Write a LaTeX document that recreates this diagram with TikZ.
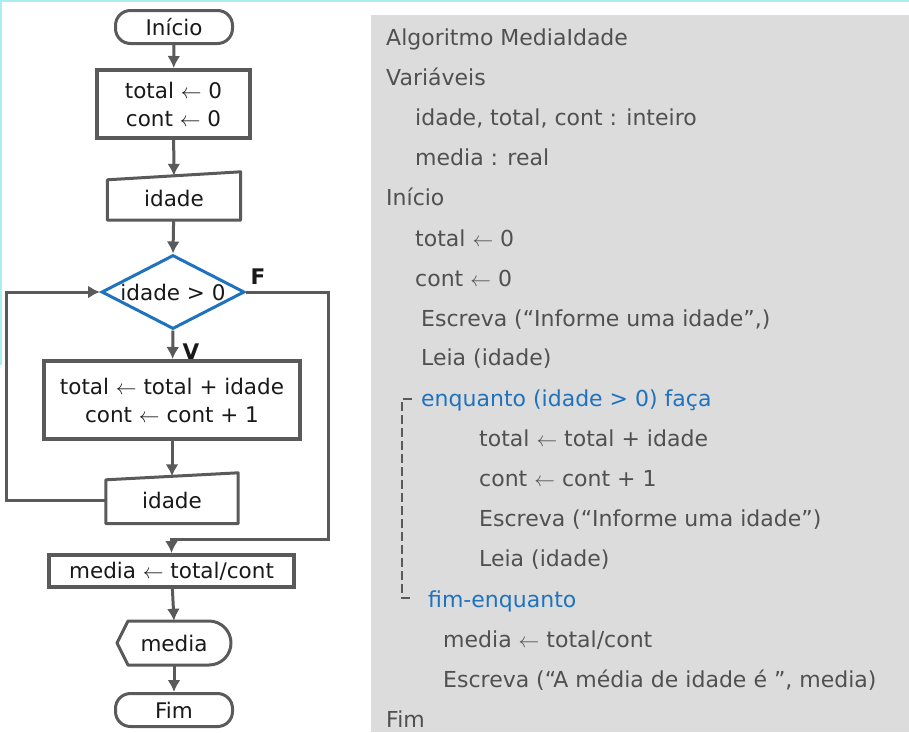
\documentclass[tikz,border=0pt]{standalone}
\usepackage{fontspec}
\setmainfont{DejaVu Sans}
\usetikzlibrary{shapes.geometric, arrows.meta}

\definecolor{linha}{HTML}{5A5A5A}
\definecolor{azul}{HTML}{1F72BE}
\definecolor{painel}{HTML}{DCDCDC}
\definecolor{texto}{HTML}{505050}
\definecolor{borda}{HTML}{A8EEF4}
\newcommand\fcaixa{\fontsize{21.5}{28}\selectfont}
\newcommand\fpainel{\fontsize{22}{25}\selectfont}

\tikzset{
  seta/.style={draw=linha, line width=3pt, ->},
  term/.style={draw=linha, line width=3pt, rounded corners=15pt, minimum width=117pt, minimum height=33pt, font=\fcaixa, text=black!90},
  proc/.style={draw=linha, line width=4pt, align=center, inner sep=0pt, font=\fcaixa, text=black!90},
  io/.style={inner sep=0pt, minimum width=133pt, font=\fcaixa, text=black!90},
  contorno/.style={draw=linha, line width=3pt, line join=round},
  dec/.style={diamond, draw=azul, line width=3pt, inner sep=0pt, minimum width=143pt, minimum height=74pt},
  cod/.style={anchor=west, inner sep=0pt, text=texto, font=\fpainel, text height=18pt, text depth=2pt},
  rot/.style={font=\fcaixa\bfseries, text=black!90}
}

\begin{document}
\begin{tikzpicture}[x=1pt, y=-1pt, >={Latex[length=12pt,width=13pt]}]
  \useasboundingbox (0,0) rectangle (909,732);
  \fill[white] (0,0) rectangle (909,732);
  \fill[painel] (371,15) rectangle (909,732); % quadro do algoritmo
  \draw[borda, line width=1.5pt] (0,1) -- (909,1);
  \draw[borda, line width=1.5pt] (1,0) -- (1,365);

  % fluxograma
  \node[term] (ini) at (174,27) {Início};
  \node[proc, minimum width=153pt, minimum height=68pt] (p1) at (173.5,104) {total $\leftarrow$ 0\\cont $\leftarrow$ 0};
  \node[io, minimum height=44pt] (in1) at (174,198) {idade};
  \draw[contorno] (in1.south west) -- (in1.south east) -- ([yshift=4pt]in1.north east) -- ([yshift=-4pt]in1.north west) -- cycle;
  \node[dec] (cond) at (173,292) {};
  \node[font=\fcaixa, text=black!90] (condt) at (cond) {idade > 0};
  \node[proc, minimum width=256pt, minimum height=78pt] (p2) at (172,400) {total $\leftarrow$ total + idade\\cont $\leftarrow$ cont + 1};
  \node[io, minimum width=132pt, minimum height=47pt] (in2) at (172,500) {idade};
  \draw[contorno] (in2.south west) -- (in2.south east) -- ([yshift=3.5pt]in2.north east) -- ([yshift=-3.5pt]in2.north west) -- cycle;
  \node[proc, minimum width=245pt, minimum height=32pt] (med) at (171.5,571) {media $\leftarrow$ total/cont};
  \node[io, minimum width=114pt, minimum height=44pt] (saida) at (174,643) {media};
  \draw[contorno] (117,643) -- (128,621) -- (209,621) arc(-90:90:22) -- (128,665) -- cycle;
  \node[term] (fim) at (174,710) {Fim};

  \draw[seta] (ini) -- (p1);
  \draw[seta] (p1) -- (in1);
  \draw[seta] (in1) -- (cond.north);
  \draw[seta] (cond.south) -- (p2);
  \draw[seta] (p2) -- (in2);
  \draw[seta] (in2.west) -- ++(-99,0) |- (cond.west); % volta do laço
  \coordinate (fc) at (328,539);
  \draw[seta] (cond.east) -| (fc) -| (med.north);
  \draw[seta] (med) -- (saida.north);
  \draw[seta] (saida) -- (fim);
  \node[rot] (lf) at (258,277) {F};
  \node[rot] (lv) at (191,352) {V};

  % pseudocódigo
  \node[cod] (c1) at (386,37) {Algoritmo MediaIdade};
  \node[cod] (c2) at (386,77) {Variáveis};
  \node[cod] (c3) at (415,117) {idade, total, cont : inteiro};
  \node[cod] (c4) at (415,157) {media : real};
  \node[cod] (c5) at (386,197) {Início};
  \node[cod] (c6) at (415,238) {total $\leftarrow$ 0};
  \node[cod] (c7) at (415,278) {cont $\leftarrow$ 0};
  \node[cod] (c8) at (421,318) {Escreva (“Informe uma idade”,)};
  \node[cod] (c9) at (421,357) {Leia (idade)};
  \node[cod, text=azul] (c10) at (421,398) {enquanto (idade > 0) faça};
  \node[cod] (c11) at (479,438) {total $\leftarrow$ total + idade};
  \node[cod] (c12) at (479,478) {cont $\leftarrow$ cont + 1};
  \node[cod] (c13) at (479,518) {Escreva (“Informe uma idade”)};
  \node[cod] (c14) at (479,558) {Leia (idade)};
  \node[cod, text=azul] (c15) at (428,599) {fim-enquanto};
  \node[cod] (c16) at (443,639) {media $\leftarrow$ total/cont};
  \node[cod] (c17) at (443,679) {Escreva (“A média de idade é ”, media)};
  \node[cod] (c18) at (386,719) {Fim};
  \draw[linha, line width=1.4pt, dash pattern=on 9pt off 4pt] (412,399) -| (402,598) -- (413,598);
\end{tikzpicture}
\end{document}
